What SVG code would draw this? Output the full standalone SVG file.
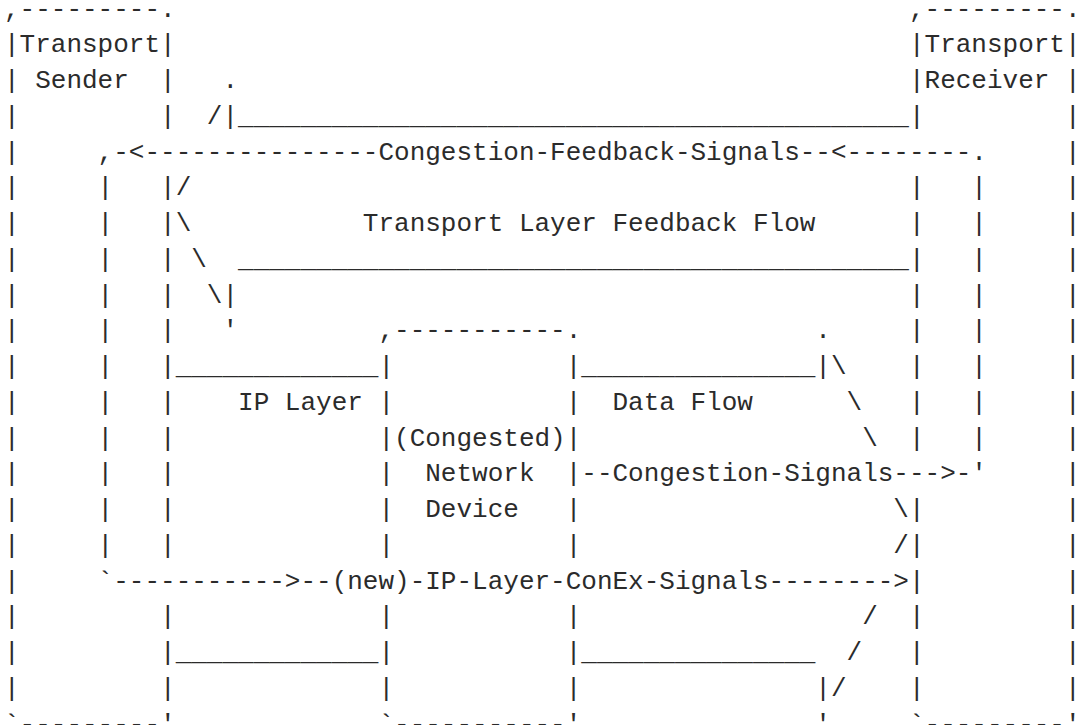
<svg xmlns="http://www.w3.org/2000/svg" width="1079" height="725" viewBox="0 0 1079 725" xml:space="preserve">
<style>
text{font-family:"Liberation Mono","DejaVu Sans Mono",monospace;font-size:26px;fill:#2b2b2b;white-space:pre}
</style>
<rect width="1079" height="725" fill="#ffffff"/>
<g id="ascii-art">
<text xml:space="preserve" x="4" y="16.5">,---------.                                               ,---------.</text>
<text xml:space="preserve" x="4" y="52.25">|Transport|                                               |Transport|</text>
<text xml:space="preserve" x="4" y="88">| Sender  |   .                                           |Receiver |</text>
<text xml:space="preserve" x="4" y="123.75">|         |  /|___________________________________________|         |</text>
<text xml:space="preserve" x="4" y="159.5">|     ,-&lt;---------------Congestion-Feedback-Signals--&lt;--------.     |</text>
<text xml:space="preserve" x="4" y="195.25">|     |   |/                                              |   |     |</text>
<text xml:space="preserve" x="4" y="231">|     |   |\           Transport Layer Feedback Flow      |   |     |</text>
<text xml:space="preserve" x="4" y="266.75">|     |   | \  ___________________________________________|   |     |</text>
<text xml:space="preserve" x="4" y="302.5">|     |   |  \|                                           |   |     |</text>
<text xml:space="preserve" x="4" y="338.25">|     |   |   '         ,-----------.               .     |   |     |</text>
<text xml:space="preserve" x="4" y="374">|     |   |_____________|           |_______________|\    |   |     |</text>
<text xml:space="preserve" x="4" y="409.75">|     |   |    IP Layer |           |  Data Flow      \   |   |     |</text>
<text xml:space="preserve" x="4" y="445.5">|     |   |             |(Congested)|                  \  |   |     |</text>
<text xml:space="preserve" x="4" y="481.25">|     |   |             |  Network  |--Congestion-Signals---&gt;-'     |</text>
<text xml:space="preserve" x="4" y="517">|     |   |             |  Device   |                    \|         |</text>
<text xml:space="preserve" x="4" y="552.75">|     |   |             |           |                    /|         |</text>
<text xml:space="preserve" x="4" y="588.5">|     `-----------&gt;--(new)-IP-Layer-ConEx-Signals--------&gt;|         |</text>
<text xml:space="preserve" x="4" y="624.25">|         |             |           |                  /  |         |</text>
<text xml:space="preserve" x="4" y="660">|         |_____________|           |_______________  /   |         |</text>
<text xml:space="preserve" x="4" y="695.75">|         |             |           |               |/    |         |</text>
<text xml:space="preserve" x="4" y="731.5">`---------'             `-----------'               '     `---------'</text>
</g>
</svg>
